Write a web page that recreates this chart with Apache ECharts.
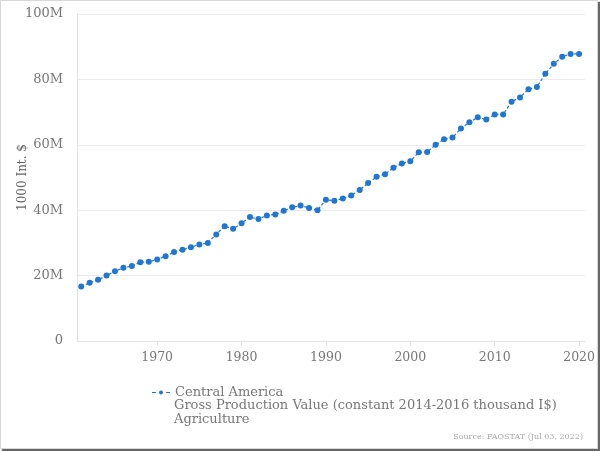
<!DOCTYPE html>
<html><head><meta charset="utf-8">
<script src="https://cdn.jsdelivr.net/npm/echarts@6/dist/echarts.min.js"></script>
<style>
html,body{margin:0;padding:0;background:#fff;}
#wrap{position:absolute;left:0;top:0;width:596px;height:447px;border:1px solid #d8d8d8;box-shadow:2px 2px 1px #666;background:#fff;}
#c{width:596px;height:447px;}
</style></head>
<body><div id="wrap"><div id="c"></div></div>
<script>
const years = [];
for (let y = 1961; y <= 2020; y++) years.push(y);
// Gross Production Value, millions of thousand I$
const values = [16.7,17.8,18.7,20.0,21.3,22.4,22.9,24.1,24.2,24.9,
25.9,27.2,27.9,28.7,29.5,30.0,32.6,35.1,34.3,36.0,
37.9,37.3,38.4,38.7,39.8,40.9,41.4,40.7,40.0,43.2,
42.9,43.6,44.5,46.2,48.3,50.2,51.0,53.0,54.3,55.0,
57.7,57.8,60.0,61.7,62.2,65.0,66.9,68.4,67.7,69.3,
69.3,73.2,74.5,77.0,77.7,81.7,84.8,86.9,87.8,87.8];
const xTicks = [1970,1980,1990,2000,2010,2020];
const seriesName = 'Central America';
const seriesSubtitle = 'Gross Production Value (constant 2014-2016 thousand I$)\nAgriculture';
const yAxisName = '1000 Int. $';
const sourceText = 'Source: FAOSTAT (Jul 03, 2022)';

const FONT = 'DejaVu Serif';
const chart = echarts.init(document.getElementById('c'));
chart.setOption({
  animation:false,
  textStyle:{fontFamily:FONT},
  grid:{left:76,right:12,top:13,bottom:107,containLabel:false,outerBoundsMode:'none'},
  xAxis:{type:'value',min:1960.5,max:2020.7,
    axisLine:{show:true,lineStyle:{color:'#e3e3e3',width:1}},
    axisTick:{show:true,length:5,lineStyle:{color:'#e3e3e3'},customValues:xTicks},
    axisLabel:{color:'#777',fontSize:12.5,fontFamily:FONT,margin:10,customValues:xTicks,formatter:v=>String(v)},
    splitLine:{show:false}},
  yAxis:{type:'value',min:0,max:100,interval:20,
    name:yAxisName,nameLocation:'middle',nameGap:48,nameMoveOverlap:false,
    nameTextStyle:{color:'#666',fontSize:12,fontFamily:FONT},
    axisLine:{show:true,lineStyle:{color:'#e3e3e3'}},
    axisTick:{show:false},
    axisLabel:{color:'#777',fontSize:13,fontFamily:FONT,margin:14,formatter:v=>v===0?'0':v+'M'},
    splitLine:{lineStyle:{color:'#ebebeb'}}},
  legend:{left:146,top:380,itemWidth:18,itemHeight:8,itemGap:5,
    textStyle:{color:'#777',fontSize:13,fontFamily:FONT},
    data:[{name:seriesName,icon:'path://M0,4h4v1h-4zM7,4.5a2,2 0 1,0 4,0a2,2 0 1,0 -4,0zM14,4h4v1h-4z'}]},
  graphic:[
    {type:'text',left:173,top:397,style:{text:seriesSubtitle,fill:'#777',fontSize:13,lineHeight:14.5,fontFamily:FONT}},
    {type:'text',right:14,top:432,style:{text:sourceText,fill:'#aaa',fontSize:8,fontFamily:FONT}}],
  series:[{name:seriesName,type:'line',
    data:years.map((y,i)=>[y,values[i]]),
    symbol:'circle',symbolSize:6,
    itemStyle:{color:'#1f76d3'},
    lineStyle:{color:'#1f76d3',width:1.2,type:[3,2]}}]
});
</script></body></html>
